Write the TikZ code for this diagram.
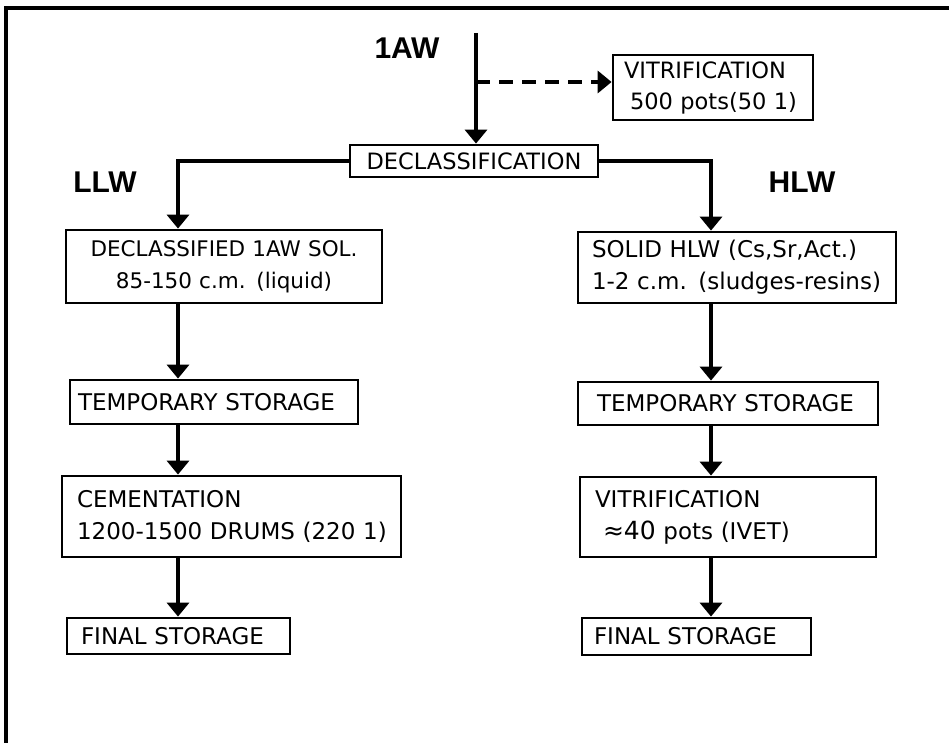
\documentclass[tikz,border=0pt]{standalone}
\usepackage{fontspec}
\setmainfont{DejaVu Sans}
\newfontfamily\lblfont{Liberation Sans}
\usetikzlibrary{arrows.meta}
\begin{document}
\begin{tikzpicture}[x=1pt,y=-1pt,
  box/.style={draw, line width=2.8pt, inner ysep=0pt, font=\fontsize{23}{32}\selectfont, align=left},
  cbox/.style={box, align=center},
  lbl/.style={font=\lblfont\bfseries\fontsize{30}{32}\selectfont, inner sep=0pt},
  arr/.style={line width=3.6pt, -{Triangle[width=22pt,length=14pt]}},
  darr/.style={line width=3.6pt, dash pattern=on 14pt off 9pt, -{Triangle[width=22pt,length=14pt]}}
]
\useasboundingbox (0,0) rectangle (949,743);
% frame
\draw[line width=3.4pt] (6,743) -- (6,8) -- (949,8);

% labels
\node[lbl] (aw) at (407,48) {1AW};
\node[lbl] (llw) at (105,182) {LLW};
\node[lbl] (hlw) at (802,182) {HLW};

% top boxes
\node[box, font=\fontsize{22.5}{31}\selectfont, minimum width=200pt, minimum height=65pt, inner xsep=7pt, text width=186pt] (vit) at (713,87.5) {\hspace*{4pt}VITRIFICATION\\\hspace*{10pt}500~pots(50~1)};
\node[cbox, font=\fontsize{22.5}{32}\selectfont, minimum width=248pt, minimum height=32pt, inner xsep=6pt, text width=236pt] (decl) at (474,161) {DECLASSIFICATION};

% left column
\node[cbox, font=\fontsize{21.5}{32}\selectfont, minimum width=316pt, minimum height=73pt, inner xsep=4pt, text width=308pt] (l1) at (224,266.5) {DECLASSIFIED 1AW SOL.\\85-150 c.m. (liquid)};
\node[box, minimum width=288pt, minimum height=44pt, inner xsep=8pt, text width=272pt] (l2) at (214,402) {TEMPORARY STORAGE};
\node[box, minimum width=339pt, minimum height=81pt, inner xsep=13pt, text width=313pt] (l3) at (231.5,516.5) {\hspace*{2pt}CEMENTATION\\\hspace*{2pt}1200-1500 DRUMS (220 1)};
\node[box, minimum width=223pt, minimum height=36pt, inner xsep=14pt, text width=195pt] (l4) at (178.5,636) {FINAL STORAGE};

% right column
\node[box, minimum width=318pt, minimum height=71pt, inner xsep=14pt, text width=290pt] (r1) at (737,267.5) {SOLID HLW (Cs,Sr,Act.)\\1-2 c.m. (sludges-resins)};
\node[box, minimum width=300pt, minimum height=43pt, inner xsep=19pt, text width=262pt] (r2) at (728,403.5) {TEMPORARY STORAGE};
\node[box, minimum width=296pt, minimum height=80pt, inner xsep=15pt, text width=266pt] (r3) at (728,517) {VITRIFICATION\\\hspace*{8pt}{\fontsize{25}{32}\selectfont ≈40} pots (IVET)};
\node[box, minimum width=229pt, minimum height=37pt, inner xsep=12pt, text width=205pt] (r4) at (696.5,636.5) {FINAL STORAGE};

% connectors
\coordinate (top) at (476,33);
\coordinate (split) at (476,82);
\coordinate (colL) at (178,0);
\coordinate (colR) at (711,0);
\draw[arr] (top) -- (decl.north -| top);
\draw[darr] (split) -- (vit.west |- split);
\draw[arr] (decl.west) -| (l1.north -| colL);
\draw[arr] (decl.east) -| (r1.north -| colR);
\draw[arr] (l1.south -| colL) -- (l2.north -| colL);
\draw[arr] (l2.south -| colL) -- (l3.north -| colL);
\draw[arr] (l3.south -| colL) -- (l4.north -| colL);
\draw[arr] (r1.south -| colR) -- (r2.north -| colR);
\draw[arr] (r2.south -| colR) -- (r3.north -| colR);
\draw[arr] (r3.south -| colR) -- (r4.north -| colR);
\end{tikzpicture}
\end{document}
